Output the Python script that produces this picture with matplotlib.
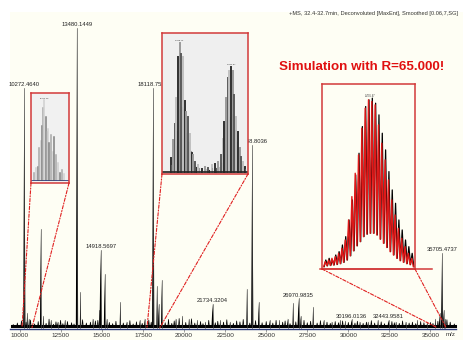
import matplotlib
matplotlib.use('Agg')
import matplotlib.pyplot as plt
from matplotlib.patches import ConnectionPatch, Rectangle

plt.rcParams['font.family'] = ['Liberation Sans', 'DejaVu Sans']

# main spectrum: labelled peaks (relative intensity, 13480 = 100)
major_mz = [10272.4640, 13480.1449, 14918.5697, 18118.7535, 21734.3204,
            24148.8036, 26970.9835, 30196.0136, 32443.9581, 35705.4737]
major_int = [80, 100, 26, 80, 8, 61, 9.7, 2.7, 2.5, 25]
major_lab = ["10272.4640", "13480.1449", "14918.5697", "18118.7535", "21734.3204",
             "24148.8036", "26970.9835", "30196.0136", "32443.9581", "35705.4737"]

# smaller unlabelled peaks
minor_mz = [10450, 10560, 11270, 11435, 11900, 12300, 12750, 13693, 14450, 14850,
            15159, 15300, 16117, 16500, 17300, 17600, 18352, 18450, 18638, 19500,
            19900, 20300, 20800, 21300, 22200, 22800, 23828, 24540, 25200, 25800,
            26300, 26636, 27100, 27857, 28500, 29000, 29500, 29810, 30700, 31200,
            31800, 32900, 33500, 34200, 34800, 35300, 35550, 35800, 35900]
minor_int = [5, 3, 33, 4, 2.5, 2, 2.5, 12, 3, 6,
             18, 3, 8.6, 2, 2.5, 3, 14, 8, 16, 3,
             4, 3, 2.5, 2, 2.5, 2, 13, 8.6, 2.5, 2.5,
             3, 8.3, 4, 7, 2.5, 2, 2.5, 2.3, 2, 2,
             2.5, 2, 2, 2.5, 2, 3, 5, 6, 3]

# baseline noise
grass_mz = [9600, 9850, 10100, 10380, 10650, 10900, 11120, 11600, 11780, 12050,
            12200, 12480, 12620, 12900, 13150, 13300, 13820, 14050, 14300, 14600,
            14750, 15450, 15650, 15850, 16300, 16700, 16900, 17100, 17450, 17850,
            18000, 18850, 19050, 19250, 19400, 19700, 20100, 20450, 20650, 21000,
            21150, 21500, 21900, 22050, 22400, 22600, 23000, 23200, 23400, 23600,
            24000, 24350, 24750, 25000, 25400, 25600, 26000, 26150, 26450, 26800,
            27300, 27500, 27700, 28100, 28300, 28700, 28900, 29200, 29400, 29650,
            30000, 30400, 30550, 30900, 31100, 31400, 31600, 32000, 32200, 32650,
            32800, 33100, 33300, 33700, 33900, 34100, 34400, 34600, 35000, 35150,
            35450, 36000, 36200, 36450]
grass_int = [1.0, 1.5, 2.2, 1.8, 2.5, 1.2, 2.0, 1.4, 2.8, 1.1,
             1.9, 2.4, 1.3, 2.0, 1.6, 1.2, 2.6, 1.5, 1.8, 2.2,
             2.4, 1.7, 1.3, 2.1, 1.5, 2.3, 1.2, 1.9, 1.4, 2.5,
             1.8, 1.6, 2.7, 1.4, 2.2, 3.0, 1.7, 2.9, 1.5, 2.0,
             1.3, 2.4, 1.6, 2.1, 1.8, 2.6, 1.4, 2.2, 1.9, 2.7,
             1.5, 2.3, 1.6, 2.0, 1.5, 2.4, 1.8, 2.2, 1.3, 1.9,
             2.4, 1.6, 2.1, 1.5, 2.3, 1.8, 1.4, 2.0, 1.6, 2.2,
             1.7, 1.5, 2.1, 1.4, 1.8, 2.3, 1.5, 1.9, 1.3, 2.0,
             1.6, 1.4, 2.2, 1.5, 1.8, 1.3, 2.0, 1.6, 1.7, 1.4,
             2.1, 2.6, 1.8, 1.2]

tick_vals = [10000, 12500, 15000, 17500, 20000, 22500, 25000, 27500, 30000, 32500, 35000]

# inset 1 (around 10272)
in1_mz = [10248.0, 10252.0, 10256.7, 10259.8, 10263.7, 10266.8, 10270.0, 10272.3, 10275.4, 10278.6,
          10281.7, 10284.8, 10289.5, 10293.4, 10296.6, 10301.3, 10306.0, 10309.9, 10313.8, 10318.5]
in1_int = [7.5, 13, 15, 36, 45, 62, 83, 92, 72, 55, 58, 42, 51, 32, 49, 28, 19, 8, 11, 6]
in1_ticks = [10265, 10290, 10315]

# inset 2 (around 18118)
in2_mz = [18084, 18093, 18100, 18106, 18112, 18119, 18125, 18132, 18138, 18144,
          18151, 18157, 18164, 18170, 18176, 18189, 18202, 18215, 18228, 18240,
          18253, 18266, 18276, 18283, 18289, 18295, 18302, 18308, 18315, 18321,
          18327, 18334, 18340, 18347, 18353, 18359, 18366]
in2_int = [10, 23, 34, 53, 82, 92, 84, 82, 51, 43,
           39, 27, 14, 12, 7, 5, 2, 4, 3, 5,
           6, 7, 12, 24, 36, 53, 67, 72, 75, 72,
           55, 39, 29, 17, 11, 7, 4]

# inset 3: isotope pattern 35705, simulation (red) and measured (black)
sim_mz = [35691, 35692, 35693, 35694, 35695, 35696, 35697, 35698, 35699, 35700,
          35701, 35702, 35703, 35704, 35705, 35706, 35707, 35708, 35709, 35710,
          35711, 35712, 35713, 35714, 35715, 35716, 35717]
sim_int = [3, 4, 5, 6, 8, 11, 16, 28, 42, 56,
           67, 83, 95, 100, 99, 97, 85, 74, 64, 52,
           40, 31, 23, 17, 12, 8, 5]
sim_valley = [0.5, 0.7, 1.0, 1.3, 1.8, 2.6, 4.0, 6.5, 9.5, 12.5,
              15, 18, 19.5, 20, 20, 19, 16.5, 14, 11.5, 9,
              7, 5, 3.6, 2.6, 1.8, 1.2]
exp_int = [4, 5, 4, 7, 9, 13, 18, 28, 40, 55,
           68, 84, 96, 100, 101, 98, 91, 80, 70, 57,
           46, 38, 28, 22, 16, 12, 8]

CREAM = '#FEFEF4'
RED = '#D23A3A'
NAVY = '#2B3A7B'
W, H = 463, 340

fig = plt.figure(figsize=(W / 100, H / 100), dpi=100, facecolor='white')
fig.add_artist(Rectangle((10 / W, 0), (W - 10) / W, (H - 12) / H,
                         transform=fig.transFigure, facecolor=CREAM,
                         edgecolor='none', zorder=-10))


def px_axes(x0, y0, x1, y1):
    return fig.add_axes([x0 / W, 1 - y1 / H, (x1 - x0) / W, (y1 - y0) / H])


def draw_peak(a, mz, h, w, color='black', z=2):
    a.fill([mz - w, mz, mz + w], [0, h, 0], color=color, lw=0, zorder=z)
    a.plot([mz, mz], [0, h], color='#444444', lw=0.45, zorder=z)


# ---- main spectrum
ax = px_axes(10, 12, 462, 329)
ax.set_facecolor('none')
ax.set_xlim(9402, 36918)
ax.set_ylim(-0.5, 105.3)
for s in ['left', 'right', 'top']:
    ax.spines[s].set_visible(False)
ax.spines['bottom'].set_color(NAVY)
ax.spines['bottom'].set_linewidth(1.0)
ax.spines['bottom'].set_bounds(9402, 36550)
ax.set_yticks([])
ax.set_xticks(tick_vals)
ax.set_xticklabels([str(t) for t in tick_vals], fontsize=4.6, color='#333333')
ax.tick_params(axis='x', length=2, width=0.5, pad=1.2, color='#777777')

gx, gy = [], []
for m, h in zip(grass_mz, grass_int):
    gx += [m - 40, m, m + 40]
    gy += [0.3, h, 0.3]
ax.plot(gx, gy, color='black', lw=0.5, zorder=2)
ax.plot([9550, 36500], [0.5, 0.5], color='black', lw=2.2, zorder=2)

for m, h in zip(minor_mz, minor_int):
    draw_peak(ax, m, h, 45)
for m, h, lab in zip(major_mz, major_int, major_lab):
    draw_peak(ax, m, h, 70)
    ax.annotate(lab, (m, h), xytext=(0, 0.6), textcoords='offset points',
                ha='center', va='bottom', fontsize=4.2, color='#222222', zorder=3)

fig.text(451 / W, 1 - 335 / H, 'm/z', fontsize=4.4, color='#333333', ha='center', va='center')
fig.text(458 / W, 1 - 14 / H,
         '+MS, 32.4-32.7min, Deconvoluted [MaxEnt], Smoothed [0.06,7,SG]',
         fontsize=4.1, color='#333333', ha='right', va='center')
fig.text(362 / W, 1 - 67 / H, 'Simulation with R=65.000!', fontsize=9.6,
         fontweight='bold', color='#E01010', ha='center', va='center')


def frame(a, face):
    a.set_facecolor(face)
    a.set_xticks([])
    a.set_yticks([])
    for s in a.spines.values():
        s.set_color(RED)
        s.set_linewidth(1.1)


def connect(a, corner, mz):
    con = ConnectionPatch(xyA=(corner, 0), coordsA=a.transAxes,
                          xyB=(mz, 0), coordsB=ax.transData,
                          color='#E02020', lw=0.8, linestyle=(0, (3, 1.5, 1, 1.5)))
    fig.add_artist(con)


# ---- inset 1
in1 = px_axes(31, 93, 69, 183)
frame(in1, '#F1F1F1')
in1.set_xlim(10241, 10331)
in1.set_ylim(-4, 100)
shades1 = ['#a8a8a8', '#d0d0d0', '#808080']
for i, (m, h) in enumerate(zip(in1_mz, in1_int)):
    in1.plot([m, m], [0, h], color=shades1[i % 3], lw=1.1)
in1.plot([10241, 10331], [0, 0], color=NAVY, lw=0.6)
for t in in1_ticks:
    in1.text(t, -0.5, str(t), fontsize=1.6, color='#555555', ha='center', va='top')
in1.text(10272.3, 93, '10272.46', fontsize=1.6, color='#333333', ha='center', va='bottom')
connect(in1, 0, 10133)
connect(in1, 1, 10742)

# ---- inset 2
in2 = px_axes(162, 33, 248, 174)
frame(in2, '#EFEFEF')
in2.set_xlim(18051, 18379)
in2.set_ylim(-1.2, 99)
shades2 = ['#303030', '#9a9a9a', '#5a5a5a', '#c0c0c0']
for i, (m, h) in enumerate(zip(in2_mz, in2_int)):
    in2.plot([m, m], [0, h], color=shades2[i % 4], lw=1.4)
    in2.plot([m + 3, m + 3], [0, h * 0.55], color=shades2[(i + 2) % 4], lw=0.8)
in2.plot([18051, 18379], [0.3, 0.3], color='#222222', lw=1.2)
in2.text(18119, 93, '18118.75', fontsize=1.6, color='#333333', ha='center', va='bottom')
in2.text(18315, 76, '18314.97', fontsize=1.6, color='#333333', ha='center', va='bottom')
connect(in2, 0, 17742)
connect(in2, 1, 18533)

# ---- inset 3
in3 = px_axes(322, 84, 415, 269)
frame(in3, CREAM)
in3.set_xlim(35690, 35718)
in3.set_ylim(-1.4, 109.5)


def zigzag(mzs, peaks, valleys, shift):
    xs = [mzs[0] - 0.5 + shift]
    ys = [0]
    for i, (m, h) in enumerate(zip(mzs, peaks)):
        xs.append(m + shift)
        ys.append(h)
        if i < len(valleys):
            xs.append(m + 0.5 + shift)
            ys.append(valleys[i])
    xs.append(mzs[-1] + 0.5 + shift)
    ys.append(0)
    return xs, ys


bx, by = zigzag(sim_mz, exp_int, sim_valley, 0.15)
in3.plot(bx, by, color='black', lw=0.9, zorder=2)
rx, ry = zigzag(sim_mz, sim_int, sim_valley, 0.0)
in3.plot(rx, ry, color='#E01818', lw=1.0, zorder=3)
in3.plot([35689.4, 35723.1], [-1.4, -1.4], color=RED, lw=1.1, clip_on=False, zorder=4)
in3.text(35704.5, 101, '35705.47', fontsize=1.8, color='#333333', ha='center', va='bottom')
connect(in3, 0, 35396)
connect(in3, 1, 35944)

fig.savefig('out.png', dpi=100, facecolor=fig.get_facecolor())
